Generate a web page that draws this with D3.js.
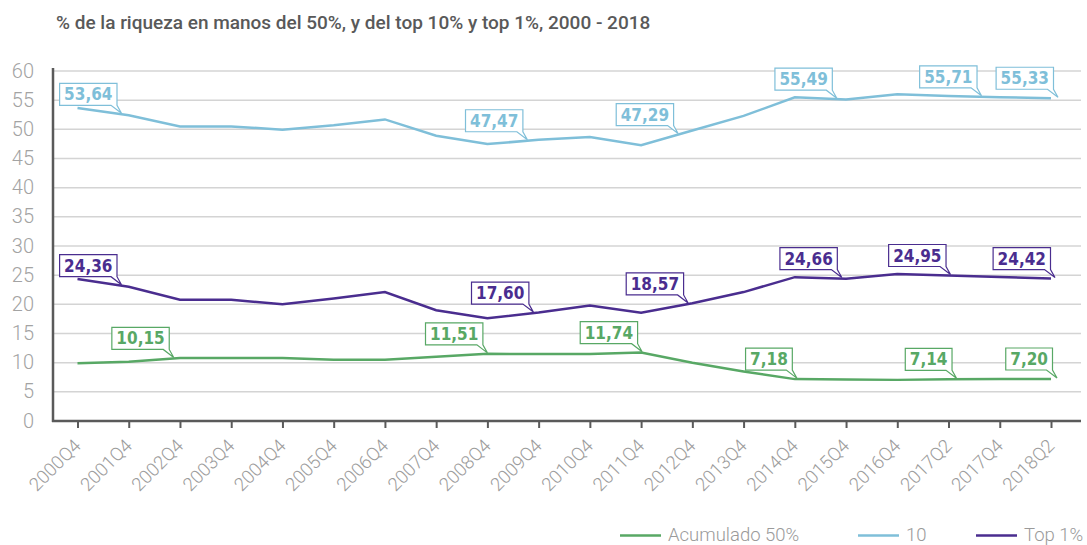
<!DOCTYPE html>
<html>
<head>
<meta charset="utf-8">
<script src="https://cdn.jsdelivr.net/npm/d3@7"></script>
<style>
  body { margin: 0; background: #fff; }
  svg { display: block; }
</style>
</head>
<body>
<div id="chart"></div>
<script>
'use strict'

// Data
const quarters = ['2000Q4', '2001Q4', '2002Q4', '2003Q4', '2004Q4', '2005Q4', '2006Q4',
  '2007Q4', '2008Q4', '2009Q4', '2010Q4', '2011Q4', '2012Q4', '2013Q4', '2014Q4',
  '2015Q4', '2016Q4', '2017Q2', '2017Q4', '2018Q2']
const acumulado50 = [9.9, 10.15, 10.8, 10.8, 10.8, 10.5, 10.5, 11.0, 11.51, 11.5,
  11.5, 11.74, 10.0, 8.5, 7.18, 7.12, 7.05, 7.14, 7.18, 7.20]
const top10 = [53.64, 52.4, 50.5, 50.5, 49.95, 50.7, 51.7, 48.9, 47.47, 48.2,
  48.7, 47.29, 49.8, 52.3, 55.49, 55.1, 56.0, 55.71, 55.5, 55.33]
const top1 = [24.36, 23.0, 20.8, 20.8, 20.0, 21.0, 22.1, 19.0, 17.60, 18.6,
  19.8, 18.57, 20.2, 22.1, 24.66, 24.4, 25.2, 24.95, 24.7, 24.42]
const yTicks = [0, 5, 10, 15, 20, 25, 30, 35, 40, 45, 50, 55, 60]

// which points carry a value callout, and how far right its tail lands on the line
const labelled50 = [[1, 45], [8, 0], [11, 1], [14, 2], [17, 8], [19, 6]]
const labelled10 = [[0, 44], [8, 40], [11, 37], [14, 42], [17, 33], [19, 7]]
const labelled1 = [[0, 44], [8, 46], [11, 47], [14, 47], [17, 2], [19, 4]]

const series = [
  { name: 'Acumulado 50%', values: acumulado50, color: '#58a865', labels: labelled50, legendX: 620 },
  { name: '10', values: top10, color: '#7fbfd9', labels: labelled10, legendX: 858 },
  { name: 'Top 1%', values: top1, color: '#4a2d8f', labels: labelled1, legendX: 976 }
]

const width = 1087,
  height = 545,
  axisX = 53,
  gridRight = 1081

let svg = d3.select('#chart')
  .append('svg')
  .attr('width', width)
  .attr('height', height)

const x = d3.scalePoint()
  .domain(quarters)
  .range([77.5, 1051])

const y = d3.scaleLinear()
  .domain([0, 60])
  .range([421, 71])

// title
svg.append('text')
  .attr('x', 56)
  .attr('y', 29)
  .attr('fill', '#595959')
  .style('font-family', 'Roboto, sans-serif')
  .style('font-weight', 500)
  .style('font-size', '19px')
  .text('% de la riqueza en manos del 50%, y del top 10% y top 1%, 2000 - 2018')

// gridlines
svg.append('g')
  .selectAll('line')
  .data(yTicks.filter(d => d > 0))
  .enter()
  .append('line')
  .attr('x1', axisX)
  .attr('x2', gridRight)
  .attr('y1', d => y(d))
  .attr('y2', d => y(d))
  .attr('stroke', '#d4d4d4')
  .attr('stroke-width', 1.5)

// y axis
const gy = svg.append('g')
  .attr('transform', `translate(${axisX}, 0)`)
  .call(d3.axisLeft(y).tickValues(yTicks).tickSize(0).tickPadding(19))
gy.select('.domain').remove()
gy.selectAll('text')
  .attr('fill', '#a3a3a3')
  .attr('dy', '0.3em')
  .style('font-family', 'Roboto, sans-serif')
  .style('font-weight', 300)
  .style('font-size', '20px')
svg.append('line')
  .attr('x1', axisX).attr('x2', axisX)
  .attr('y1', 68).attr('y2', 422)
  .attr('stroke', '#5a5a5a')
  .attr('stroke-width', 2.5)

// x axis
const gx = svg.append('g')
  .attr('transform', `translate(0, ${y(0)})`)
  .call(d3.axisBottom(x).tickSize(7).tickSizeOuter(0))
gx.select('.domain').remove()
gx.selectAll('.tick line')
  .attr('stroke', '#5a5a5a')
  .attr('stroke-width', 2)
gx.selectAll('text')
  .attr('fill', '#9c9c9c')
  .attr('text-anchor', 'end')
  .attr('y', 0)
  .attr('dy', 0)
  .attr('transform', 'translate(4, 26) rotate(-45)')
  .style('font-family', 'Roboto, sans-serif')
  .style('font-weight', 300)
  .style('font-size', '18.5px')
svg.append('line')
  .attr('x1', axisX - 1).attr('x2', gridRight)
  .attr('y1', y(0)).attr('y2', y(0))
  .attr('stroke', '#5a5a5a')
  .attr('stroke-width', 2.5)

// lines
const line = d3.line()
  .x((d, i) => x(quarters[i]))
  .y(d => y(d))

svg.append('g')
  .selectAll('path')
  .data(series)
  .enter()
  .append('path')
  .attr('d', d => line(d.values))
  .attr('fill', 'none')
  .attr('stroke', d => d.color)
  .attr('stroke-width', 2.5)

// callouts
const step = x.step()
let lineYAt = (vals, i, dx) => {
  const f = dx / step
  const j = i + Math.floor(f)
  const t = f - Math.floor(f)
  if (j >= vals.length - 1) return y(vals[vals.length - 1])
  return y(vals[j] + (vals[j + 1] - vals[j]) * t)
}
const fmt = v => d3.format('.2f')(v).replace('.', ',')

series.forEach(s => {
  s.labels.forEach(([i, dx]) => {
    const tipX = x(quarters[i]) + dx
    const tipY = lineYAt(s.values, i, dx) - 1
    const right = tipX - 4.5,
      bottom = tipY - 8,
      boxH = 22
    const g = svg.append('g')
    const path = g.append('path')
      .attr('fill', '#fff')
      .attr('stroke', s.color)
      .attr('stroke-width', 1.2)
    const txt = g.append('text')
      .attr('fill', s.color)
      .attr('text-anchor', 'end')
      .attr('x', right - 4.5)
      .attr('y', bottom - 5)
      .style('font-family', '"Liberation Sans Narrow", "DejaVu Sans Condensed", sans-serif')
      .style('font-weight', 700)
      .style('font-size', '17px')
      .text(fmt(s.values[i]))
    const w = txt.node().getComputedTextLength() + 9
    const left = right - w,
      top = bottom - boxH
    path.attr('d', `M${left},${top}H${right}V${bottom}L${tipX},${tipY}L${right - 6},${bottom}H${left}Z`)
  })
})

// legend
const legend = svg.append('g')
series.forEach(s => {
  legend.append('line')
    .attr('x1', s.legendX).attr('x2', s.legendX + 41)
    .attr('y1', 535.5).attr('y2', 535.5)
    .attr('stroke', s.color)
    .attr('stroke-width', 2.5)
  legend.append('text')
    .attr('x', s.legendX + 48)
    .attr('y', 541)
    .attr('fill', '#9a9a9a')
    .style('font-family', 'Roboto, sans-serif')
    .style('font-weight', 300)
    .style('font-size', '18.5px')
    .text(s.name)
})
</script>
</body>
</html>
